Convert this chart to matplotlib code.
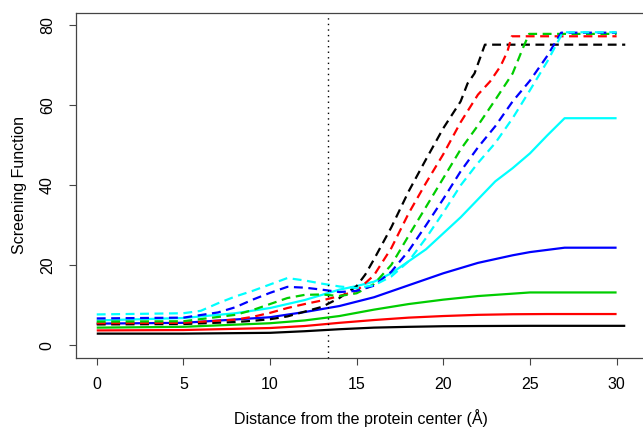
"""
Screening function vs distance from the protein center
"""

import matplotlib
matplotlib.use("Agg")
import matplotlib.pyplot as plt

plt.rcParams['font.family'] = ['Liberation Sans', 'DejaVu Sans']

# solid curves
x_black = [0, 5, 10, 12, 14, 16, 18, 20, 22, 25, 30.5]
y_black = [2.9, 2.9, 3.1, 3.5, 4.0, 4.4, 4.6, 4.75, 4.8, 4.85, 4.85]

x_red = [0, 5, 10, 12, 14, 16, 18, 20, 22, 24, 26, 30]
y_red = [3.7, 3.8, 4.3, 4.8, 5.6, 6.3, 6.9, 7.3, 7.6, 7.75, 7.8, 7.8]

x_green = [0, 5, 10, 12, 14, 16, 18, 20, 22, 24, 25, 30]
y_green = [4.4, 4.6, 5.5, 6.2, 7.3, 8.9, 10.3, 11.4, 12.3, 12.9, 13.2, 13.2]

x_blue = [0, 5, 10, 12, 14, 16, 18, 20, 22, 24, 25, 27, 30]
y_blue = [5.4, 5.6, 7.0, 8.3, 9.8, 12.0, 15.0, 18.0, 20.6, 22.5, 23.3, 24.4, 24.4]

x_cyan = [0, 5, 8, 10, 12, 13, 14, 15, 16, 17, 18, 19, 20, 21, 22, 23, 24, 25, 26, 27, 30]
y_cyan = [6.2, 6.8, 8.0, 9.3, 11.3, 12.6, 13.9, 14.8, 15.9, 18.0, 21.0, 24.0, 28.0,
          32.0, 36.5, 41.0, 44.3, 48.0, 52.5, 56.8, 56.8]

# dashed curves
xd_black = [0, 5, 8, 9, 10, 11, 12, 13, 14, 15, 15.5, 16, 17, 18, 19, 20, 21, 21.4,
            21.8, 22.4, 30.5]
yd_black = [5.2, 5.3, 5.8, 6.1, 6.5, 7.2, 8.4, 9.6, 11.8, 14.8, 17.7, 21.5, 29.5,
            38.5, 46.5, 54.3, 61.0, 65.5, 68.0, 75.2, 75.2]

xd_red = [0, 5, 8, 9, 10, 11, 12, 13, 14, 15, 16, 17, 18, 19, 20, 21, 22, 22.7,
          23.3, 23.7, 23.95, 30]
yd_red = [5.5, 5.6, 6.4, 7.1, 8.1, 9.3, 10.3, 11.2, 12.3, 13.6, 17.5, 24.3, 33.0,
          40.6, 47.8, 55.8, 62.7, 66.0, 69.8, 73.5, 77.3, 77.3]

xd_green = [0, 5, 8, 9, 10, 11, 12, 13, 14, 15, 16, 17, 18, 19, 20, 21, 22, 23, 24,
            24.6, 24.95, 30]
yd_green = [5.9, 6.0, 7.6, 8.8, 10.3, 11.8, 12.6, 12.7, 12.3, 13.0, 15.3, 20.1, 27.4,
            34.6, 41.8, 49.0, 55.0, 61.4, 68.0, 74.4, 77.9, 77.9]

xd_blue = [0, 5, 7, 8, 9, 10, 11, 12, 13, 14, 15, 16, 17, 18, 19, 20, 21, 22, 23, 24,
           25, 26, 26.8, 30]
yd_blue = [6.7, 6.9, 8.2, 9.5, 11.4, 13.1, 14.6, 14.4, 13.9, 13.3, 13.6, 14.9, 18.4,
           23.6, 30.0, 36.6, 43.5, 49.5, 54.8, 61.0, 66.2, 72.4, 78.2, 78.2]

xd_cyan = [0, 5, 6, 7, 8, 9, 10, 11, 12, 13, 14, 15, 16, 17, 18, 19, 20, 21, 22, 23,
           24, 25, 26, 26.9, 30]
yd_cyan = [7.7, 8.0, 8.6, 10.5, 12.2, 13.6, 15.2, 16.8, 16.2, 15.4, 14.7, 14.3, 15.0,
           17.2, 21.0, 26.8, 33.2, 40.0, 45.6, 50.6, 56.8, 63.8, 71.0, 78.3, 78.3]

core_radius = 13.36

fig = plt.figure(figsize=(6.43, 4.28), dpi=100)
ax = fig.add_axes([75.6 / 643, 70 / 428, 570.8 / 643, 345.3 / 428])

lw = 1.6
dash = (4, 2.5)
solid = [(x_black, y_black, 'black'), (x_red, y_red, '#ff0000'),
         (x_green, y_green, '#00cd00'), (x_blue, y_blue, '#0000ff'),
         (x_cyan, y_cyan, '#00ffff')]
dashed = [(xd_black, yd_black, 'black'), (xd_red, yd_red, '#ff0000'),
          (xd_green, yd_green, '#00cd00'), (xd_blue, yd_blue, '#0000ff'),
          (xd_cyan, yd_cyan, '#00ffff')]

for xs, ys, c in solid:
    ax.plot(xs, ys, color=c, lw=lw, solid_capstyle='butt')
for xs, ys, c in dashed:
    ax.plot(xs, ys, color=c, lw=lw, linestyle=(0, dash))

ax.axvline(core_radius, color='black', lw=1, linestyle=(0, (1, 3)))

ax.set_xlim(-1.22, 31.72)
ax.set_ylim(-3.2, 83.2)
ax.set_xticks([0, 5, 10, 15, 20, 25, 30])
ax.set_yticks([0, 20, 40, 60, 80])
for lab in ax.get_yticklabels():
    lab.set_rotation(90)
    lab.set_va('center')
ax.tick_params(direction='out', length=5, width=0.8, color='#444444',
               labelsize=11.5, pad=9)
ax.tick_params(axis='y', pad=10)
for s in ax.spines.values():
    s.set_color('#444444')
    s.set_linewidth(0.9)

ax.set_xlabel('Distance from the protein center (Å)', fontsize=11.5, labelpad=12)
ax.set_ylabel('Screening Function', fontsize=11.5, labelpad=9)

plt.savefig('out.png', dpi=100)
